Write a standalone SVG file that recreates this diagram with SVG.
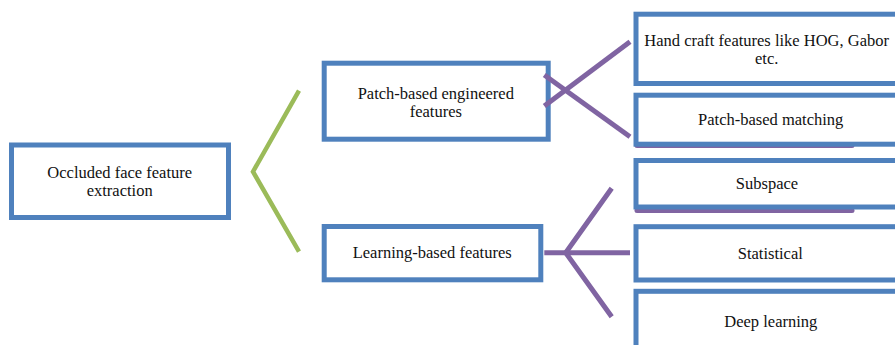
<svg xmlns="http://www.w3.org/2000/svg" width="895" height="345" viewBox="0 0 895 345">
<style>
.box{fill:#fff;stroke:#4F81BD;stroke-width:5}
.lbl{font-family:"Liberation Serif","Times New Roman",serif;font-size:16.5px;fill:#111;text-anchor:middle}
.green{fill:none;stroke:#9BBB59;stroke-width:4.5}
.purple{fill:none;stroke:#8064A2;stroke-width:5}
.shadow{stroke:#8064A2;stroke-width:5;stroke-linecap:round}
</style>
<rect width="895" height="345" fill="#fff"/>
<g id="n1">
<rect class="box" x="11.5" y="145" width="217" height="72.5"/>
<text class="lbl" x="119.7" y="178">Occluded face feature</text>
<text class="lbl" x="119.7" y="196">extraction</text>
</g>
<g id="n2">
<rect class="box" x="324.2" y="63.2" width="224" height="76"/>
<text class="lbl" x="435.8" y="98.5">Patch-based engineered</text>
<text class="lbl" x="435.8" y="116.5">features</text>
</g>
<g id="n3">
<rect class="box" x="324.2" y="226.5" width="216.6" height="53.3"/>
<text class="lbl" x="432.2" y="258.3">Learning-based features</text>
</g>
<g id="n4">
<rect class="box" x="636" y="14.2" width="270" height="69.3"/>
<text class="lbl" x="766.7" y="46">Hand craft features like HOG, Gabor</text>
<text class="lbl" x="766.7" y="64">etc.</text>
</g>
<g id="n5">
<line class="shadow" x1="637" y1="145.5" x2="852" y2="145.5"/>
<rect class="box" x="636" y="95.2" width="270" height="49"/>
<text class="lbl" x="770.7" y="125">Patch-based matching</text>
</g>
<g id="n6">
<line class="shadow" x1="637" y1="210.5" x2="852" y2="210.5"/>
<rect class="box" x="636" y="160.5" width="270" height="46.5"/>
<text class="lbl" x="767" y="189.3">Subspace</text>
</g>
<g id="n7">
<rect class="box" x="636" y="226.7" width="270" height="53.3"/>
<text class="lbl" x="770.3" y="259">Statistical</text>
</g>
<g id="n8">
<rect class="box" x="636" y="291.3" width="270" height="70"/>
<text class="lbl" x="770.8" y="326.7">Deep learning</text>
</g>
<g id="connectors">
<polyline class="green" points="299,90.7 253,171.7 299,251.7"/>
<line class="purple" x1="544.3" y1="75" x2="630" y2="136.7"/>
<line class="purple" x1="544.3" y1="106" x2="630" y2="41.7"/>
<line class="purple" x1="544.3" y1="252.7" x2="630" y2="252.7"/>
<polyline class="purple" points="611.7,188.3 565.7,252.7 611.7,316.7"/>
</g>
</svg>
